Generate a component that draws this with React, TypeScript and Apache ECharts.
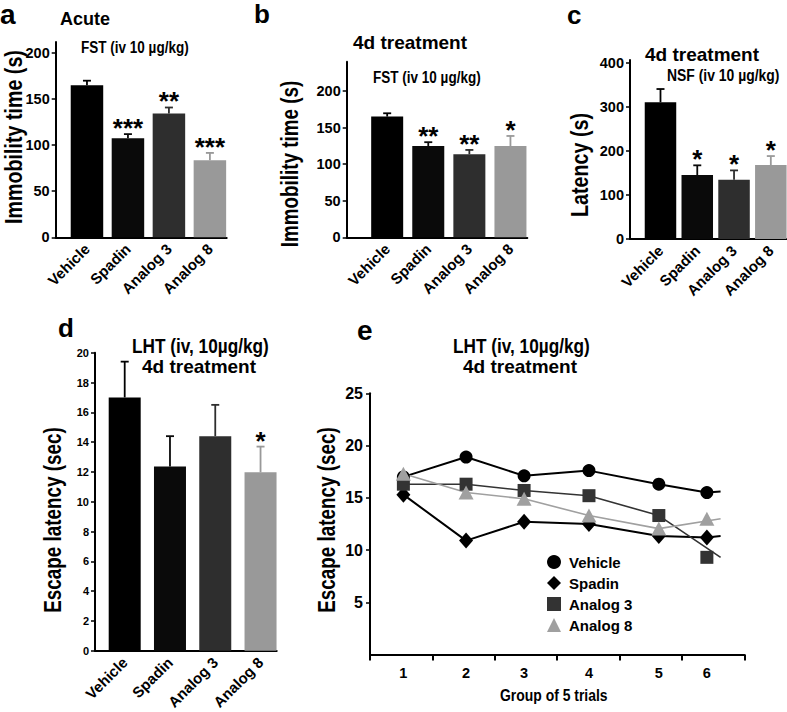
import React, { useEffect, useRef } from 'react';
import * as echarts from 'echarts';

// ---------------- data ----------------
const categories = ['Vehicle', 'Spadin', 'Analog 3', 'Analog 8'];

const acuteMeans = [165, 107.6, 134.3, 83.7];
const acuteErrors = [5, 4.4, 6.6, 7.9];
const acuteStars = ['', '***', '**', '***'];

const fst4dMeans = [165, 124.8, 113.5, 124.8];
const fst4dErrors = [4.5, 5.2, 5.9, 13.7];
const fst4dStars = ['', '**', '**', '*'];

const nsfMeans = [311, 145.5, 134.8, 168];
const nsfErrors = [30, 22, 21.2, 20.6];
const nsfStars = ['', '*', '*', '*'];

const lhtMeans = [17.0, 12.37, 14.4, 11.98];
const lhtErrors = [2.4, 2.03, 2.1, 1.72];
const lhtStars = ['', '', '', '*'];

const fstTicks = [0, 50, 100, 150, 200];
const nsfTicks = [0, 100, 200, 300, 400];
const lhtTicks = [0, 2, 4, 6, 8, 10, 12, 14, 16, 18, 20];
const trialYTicks = [5, 10, 15, 20, 25];

const trialLabels = ['1', '2', '3', '4', '5', '6'];
const trialPositions = [0.535, 1.54, 2.47, 3.51, 4.63, 5.4];
const lineEndPosition = 5.62;

const vehicleTrials = [17.0, 18.9, 17.1, 17.6, 16.3, 15.5];
const spadinTrials = [15.3, 10.9, 12.7, 12.5, 11.35, 11.2];
const analog3Trials = [16.3, 16.3, 15.7, 15.2, 13.3, 9.3];
const analog8Trials = [17.3, 15.5, 14.9, 13.3, 12.05, 13.0];
const lineEndValues = [15.6, 11.35, 9.3, 13.0];

// ---------------- styles / layout ----------------
const ARIAL = "'Liberation Sans', Arial, sans-serif";
const NARROW_SCALE = 0.82;
const barColors = ['#000000', '#0a0a0a', '#2e2e2e', '#999999'];

const barPanels = [
  { means: acuteMeans, errors: acuteErrors, stars: acuteStars, ticks: fstTicks,
    left: 55.7, top: 42, width: 171, height: 195.3, xMin: -0.763, xMax: 3.41, yMax: 212,
    barWidth: 32.5, tickFont: 14.5, labelFont: 15 },
  { means: fst4dMeans, errors: fst4dErrors, stars: fst4dStars, ticks: fstTicks,
    left: 346.7, top: 61.7, width: 180.6, height: 175.6, xMin: -0.985, xMax: 3.41, yMax: 240,
    barWidth: 32, tickFont: 14.5, labelFont: 15 },
  { means: nsfMeans, errors: nsfErrors, stars: nsfStars, ticks: nsfTicks,
    left: 630, top: 60, width: 157, height: 179, xMin: -0.829, xMax: 3.44, yMax: 407,
    barWidth: 31.5, tickFont: 14.5, labelFont: 15 },
  { means: lhtMeans, errors: lhtErrors, stars: lhtStars, ticks: lhtTicks,
    left: 95, top: 352.7, width: 181.7, height: 303.3, xMin: -0.656, xMax: 3.357, yMax: 20,
    barWidth: 32, tickFont: 11, labelFont: 15 },
];

const trialSeries = [
  { name: 'Vehicle', values: vehicleTrials, symbol: 'circle', size: 13, color: '#000000', width: 2, throughLast: true },
  { name: 'Spadin', values: spadinTrials, symbol: 'diamond', size: [14, 16], color: '#000000', width: 2, throughLast: true },
  { name: 'Analog 3', values: analog3Trials, symbol: 'rect', size: 13, color: '#333333', width: 1.6, throughLast: false },
  { name: 'Analog 8', values: analog8Trials, symbol: 'triangle', size: [15, 14], color: '#a0a0a0', width: 1.6, throughLast: false },
];

const axisLineStyle = { color: '#000', width: 2 };

function buildOption() {
  const grid: any[] = [];
  const xAxis: any[] = [];
  const yAxis: any[] = [];
  const series: any[] = [];

  barPanels.forEach((p, i) => {
    grid.push({ left: p.left, top: p.top, width: p.width, height: p.height });
    xAxis.push({
      gridIndex: i, type: 'value', min: p.xMin, max: p.xMax,
      axisLine: { show: true, onZero: false, lineStyle: axisLineStyle },
      axisTick: { show: false },
      splitLine: { show: false },
      axisLabel: {
        customValues: [0, 1, 2, 3],
        formatter: (v: number) => categories[Math.round(v)] ?? '',
        rotate: 45, margin: 9, color: '#000', fontFamily: ARIAL, fontWeight: 'bold', fontSize: p.labelFont,
      },
    });
    yAxis.push({
      gridIndex: i, type: 'value', min: 0, max: p.yMax,
      axisLine: { show: true, onZero: false, lineStyle: axisLineStyle },
      axisTick: { show: true, length: 4, customValues: p.ticks, lineStyle: { color: '#000', width: 1.5 } },
      axisLabel: { customValues: p.ticks, margin: 6, color: '#000', fontFamily: ARIAL, fontWeight: 'bold', fontSize: p.tickFont },
      splitLine: { show: false },
    });
    series.push({
      type: 'bar', xAxisIndex: i, yAxisIndex: i, barWidth: p.barWidth,
      data: p.means.map((m, j) => ({ value: [j, m], itemStyle: { color: barColors[j] } })),
      z: 2,
    });
    const stars = p.stars;
    series.push({
      type: 'custom', xAxisIndex: i, yAxisIndex: i, z: 3,
      data: p.means.map((m, j) => [j, m, m + p.errors[j]]),
      renderItem: (params: any, api: any) => {
        const k = api.value(0);
        const p0 = api.coord([k, api.value(1)]);
        const p1 = api.coord([k, api.value(2)]);
        const color = barColors[k];
        const children: any[] = [
          { type: 'line', shape: { x1: p0[0], y1: p0[1], x2: p1[0], y2: p1[1] }, style: { stroke: color, lineWidth: 1.8 } },
          { type: 'line', shape: { x1: p1[0] - 4, y1: p1[1], x2: p1[0] + 4, y2: p1[1] }, style: { stroke: color, lineWidth: 1.8 } },
        ];
        if (stars[k]) {
          children.push({
            type: 'text', x: p1[0], y: p1[1] + 7,
            style: { text: stars[k], fill: '#000', fontFamily: ARIAL, fontWeight: 'bold', fontSize: 26, align: 'center', verticalAlign: 'bottom' },
          });
        }
        return { type: 'group', children };
      },
    });
  });

  // panel e
  const ei = barPanels.length;
  grid.push({ left: 370, top: 393.3, width: 374.3, height: 261.2 });
  xAxis.push({
    gridIndex: ei, type: 'value', min: 0, max: 6, interval: 1,
    axisLine: { show: true, onZero: false, lineStyle: axisLineStyle },
    axisTick: { show: true, length: 6, lineStyle: { color: '#000', width: 2 } },
    splitLine: { show: false },
    axisLabel: {
      customValues: trialPositions,
      formatter: (v: number) => {
        const k = trialPositions.findIndex((t) => Math.abs(t - v) < 1e-6);
        return k >= 0 ? trialLabels[k] : '';
      },
      margin: 11, color: '#000', fontFamily: ARIAL, fontWeight: 'bold', fontSize: 14.5,
    },
  });
  yAxis.push({
    gridIndex: ei, type: 'value', min: 0, max: 25,
    axisLine: { show: true, onZero: false, lineStyle: axisLineStyle },
    axisTick: { show: true, length: 4, customValues: trialYTicks, lineStyle: { color: '#000', width: 1.5 } },
    axisLabel: { customValues: trialYTicks, margin: 7, color: '#000', fontFamily: ARIAL, fontWeight: 'bold', fontSize: 16 },
    splitLine: { show: false },
  });
  trialSeries.forEach((s, idx) => {
    const count = s.throughLast ? 6 : 5;
    const lineData = s.values.slice(0, count).map((v, k) => [trialPositions[k], v]);
    lineData.push([lineEndPosition, lineEndValues[idx]]);
    series.push({
      type: 'line', xAxisIndex: ei, yAxisIndex: ei, data: lineData, symbol: 'none', showSymbol: false,
      lineStyle: { color: s.color, width: s.width }, z: 2, silent: true,
    });
    series.push({
      type: 'scatter', name: s.name, xAxisIndex: ei, yAxisIndex: ei,
      data: s.values.map((v, k) => [trialPositions[k], v]),
      symbol: s.symbol, symbolSize: s.size, itemStyle: { color: s.color, opacity: 1 }, z: 3,
    });
  });

  const text = (t: string, x: number, y: number, size: number, extra: any = {}) => ({
    type: 'text', x, y, rotation: extra.rotation ?? 0, scaleX: extra.narrow ? NARROW_SCALE : 1,
    style: {
      text: t, fill: '#000', fontFamily: ARIAL, fontWeight: 'bold', fontSize: size,
      align: extra.align ?? 'left', verticalAlign: 'middle',
    },
  });
  const R = Math.PI / 2;
  const N = { narrow: true };
  const NV = { narrow: true, rotation: R, align: 'center' };
  const graphic = [
    text('a', 0, 14.5, 28),
    text('b', 254, 14, 26),
    text('c', 567, 14.5, 26),
    text('d', 58, 328, 26),
    text('e', 357, 330.5, 28),
    text('Acute', 60, 19, 18),
    text('FST (iv 10 µg/kg)', 81, 46.5, 16.5, N),
    text('4d treatment', 353, 42.5, 19),
    text('FST (iv 10 µg/kg)', 373, 76.5, 16.5, N),
    text('4d treatment', 645, 54.5, 19),
    text('NSF (iv 10 µg/kg)', 667, 75, 17, N),
    text('LHT (iv, 10µg/kg)', 132, 345.5, 21, N),
    text('4d treatment', 142, 366.5, 19),
    text('LHT (iv, 10µg/kg)', 453, 345.5, 21, N),
    text('4d treatment', 463, 366.5, 19),
    text('Group of 5 trials', 500, 695, 17, N),
    text('Immobility time (s)', 14, 137, 24, NV),
    text('Immobility time (s)', 290, 164, 23, NV),
    text('Latency (s)', 580, 165, 24, NV),
    text('Escape latency (sec)', 53, 520, 23, NV),
    text('Escape latency (sec)', 327, 520, 23, NV),
  ];

  return {
    animation: false,
    backgroundColor: '#ffffff',
    grid, xAxis, yAxis, series, graphic,
    legend: {
      orient: 'vertical', left: 542, top: 549.5, itemGap: 6, itemWidth: 14, itemHeight: 14,
      selectedMode: false,
      data: trialSeries.map((s) => ({ name: s.name, icon: s.symbol })),
      textStyle: { color: '#000', fontFamily: ARIAL, fontWeight: 'bold', fontSize: 15, lineHeight: 14, padding: [0, 0, 0, 3] },
    },
  };
}

export default function App() {
  const ref = useRef<HTMLDivElement>(null);
  useEffect(() => {
    if (!ref.current) return;
    const chart = echarts.init(ref.current, null, { renderer: 'svg' });
    chart.setOption(buildOption() as any);
    return () => chart.dispose();
  }, []);
  return (
    <div
      ref={ref}
      style={{ position: 'absolute', left: 0, top: 0, width: 787, height: 712, background: '#fff' }}
    />
  );
}
